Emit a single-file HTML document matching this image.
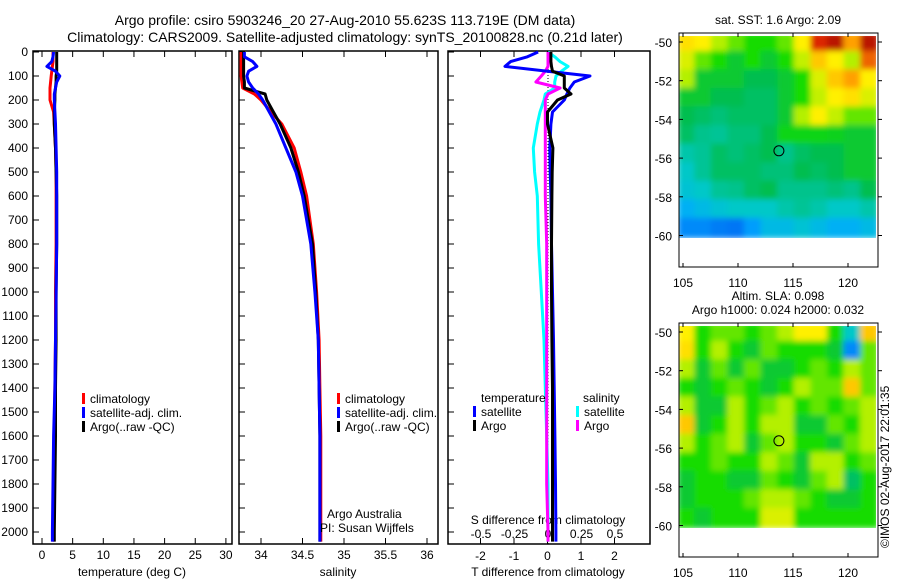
<!DOCTYPE html>
<html><head><meta charset="utf-8"><style>
body{margin:0;background:#fff;}
svg{display:block;font-family:"Liberation Sans",sans-serif;}
text{font-size:12px;fill:#000;}
</style></head><body>
<svg id="s" width="900" height="580" xmlns="http://www.w3.org/2000/svg">
<defs><filter id="bl" x="0" y="0" width="1" height="1"><feGaussianBlur stdDeviation="3"/></filter>
<clipPath id="c1"><rect x="679" y="36" width="197" height="202"/></clipPath>
<clipPath id="c2"><rect x="679" y="326" width="197" height="202"/></clipPath></defs>
<text x="345" y="25" text-anchor="middle" style="font-size:14px">Argo profile: csiro 5903246_20 27-Aug-2010 55.623S 113.719E (DM data)</text>
<text x="345" y="42" text-anchor="middle" style="font-size:14px">Climatology: CARS2009. Satellite-adjusted climatology: synTS_20100828.nc (0.21d later)</text>
</svg>
<script>
const depths=[0,20,40,60,80,100,125,150,175,200,250,300,400,500,600,800,1000,1200,1400,1600,1800,2000,2040];
const tClim=[1.8,1.8,1.8,1.7,1.6,1.5,1.4,1.3,1.3,1.3,1.9,2.0,2.2,2.3,2.3,2.3,2.2,2.2,2.1,2.0,1.9,1.8,1.8];
const tArgo=[2.4,2.4,2.4,2.4,2.4,2.3,2.3,2.2,2.1,2.1,2.0,2.0,2.2,2.3,2.4,2.4,2.3,2.3,2.2,2.2,2.1,2.0,2.0];
const tSat=[1.9,1.8,1.6,0.8,2.2,2.9,2.4,2.2,2.0,2.0,2.1,2.2,2.3,2.4,2.4,2.4,2.3,2.2,2.1,1.9,1.8,1.7,1.7];
const sClim=[33.76,33.76,33.76,33.76,33.76,33.76,33.77,33.78,33.92,34.0,34.12,34.25,34.4,34.48,34.55,34.63,34.67,34.7,34.71,34.72,34.72,34.72,34.72];
const sArgo=[33.79,33.79,33.79,33.79,33.79,33.79,33.8,33.8,34.05,34.07,34.15,34.23,34.36,34.45,34.52,34.62,34.66,34.69,34.7,34.71,34.71,34.71,34.71];
const sSat=[33.8,33.8,33.9,33.95,33.85,33.83,33.85,33.9,33.97,34.02,34.1,34.18,34.3,34.42,34.5,34.6,34.65,34.69,34.7,34.71,34.71,34.71,34.71];
const dTSat=[-0.28,-0.6,-1.1,-1.27,0,1.27,0.8,0.67,0.58,0.5,0.15,0.1,0.07,0.08,0.1,0.12,0.15,0.18,0.2,0.22,0.24,0.25,0.25];
const dTArgo=[0.1,0.1,0.1,0.12,0.15,0.5,0.5,0.5,0.7,0.3,0,0,0.16,0.14,0.13,0.12,0.12,0.13,0.15,0.15,0.15,0.15,0.15];
const dSSat=[0,0.05,0.09,0.15,0.1,0.06,0.05,0.05,-0.02,-0.03,-0.06,-0.08,-0.11,-0.1,-0.08,-0.07,-0.05,-0.03,-0.02,-0.01,0,0,0];
const dSArgo=[0,0,0,0,-0.02,-0.05,-0.09,0.09,0,-0.02,-0.02,-0.02,-0.02,-0.02,-0.02,-0.01,-0.01,-0.01,-0.01,-0.01,-0.01,0,0];
const depthTicks=[0,100,200,300,400,500,600,700,800,900,1000,1100,1200,1300,1400,1500,1600,1700,1800,1900,2000];
const tTicks=[0,5,10,15,20,25,30];
const sTicks=[34,34.5,35,35.5,36];
const dtTicks=[-2,-1,0,1,2];
const dsTicks=[-0.5,-0.25,0,0.25,0.5];
const dsTickLabels=["-0.5","-0.25","0","0.25","0.5"];
const lonTicks=[105,110,115,120];
const latTicks=[-50,-52,-54,-56,-58,-60];
const sst=[
[0.72,0.7,0.6,0.55,0.5,0.5,0.55,0.7,0.9,0.95,0.8,0.95],
[0.65,0.55,0.5,0.45,0.5,0.45,0.5,0.62,0.75,0.7,0.6,0.85],
[0.6,0.45,0.45,0.45,0.42,0.42,0.45,0.5,0.65,0.75,0.8,0.7],
[0.45,0.45,0.42,0.42,0.4,0.4,0.45,0.5,0.62,0.7,0.72,0.65],
[0.42,0.4,0.38,0.4,0.4,0.4,0.45,0.6,0.7,0.62,0.55,0.55],
[0.4,0.36,0.35,0.38,0.38,0.42,0.48,0.48,0.48,0.47,0.45,0.45],
[0.33,0.35,0.4,0.38,0.4,0.42,0.36,0.4,0.42,0.42,0.45,0.45],
[0.3,0.35,0.4,0.4,0.4,0.38,0.38,0.42,0.4,0.42,0.45,0.45],
[0.28,0.3,0.35,0.36,0.4,0.42,0.36,0.36,0.36,0.38,0.36,0.42],
[0.22,0.25,0.28,0.3,0.3,0.3,0.33,0.35,0.33,0.3,0.3,0.33],
[0.15,0.15,0.13,0.12,0.18,0.25,0.25,0.28,0.25,0.22,0.22,0.25]];
const sla=[
[0.7,0.5,0.55,0.55,0.5,0.55,0.6,0.7,0.7,0.5,0.3,0.75],
[0.72,0.5,0.6,0.5,0.45,0.55,0.5,0.5,0.5,0.45,0.15,0.55],
[0.6,0.45,0.55,0.45,0.55,0.45,0.45,0.5,0.55,0.5,0.6,0.55],
[0.5,0.45,0.5,0.55,0.5,0.45,0.5,0.6,0.55,0.55,0.75,0.55],
[0.6,0.45,0.45,0.6,0.5,0.55,0.6,0.5,0.55,0.5,0.55,0.6],
[0.75,0.45,0.5,0.6,0.5,0.6,0.6,0.45,0.45,0.55,0.5,0.6],
[0.6,0.5,0.55,0.6,0.45,0.55,0.6,0.5,0.5,0.45,0.55,0.6],
[0.5,0.5,0.55,0.5,0.5,0.6,0.55,0.45,0.6,0.6,0.5,0.55],
[0.45,0.5,0.5,0.45,0.45,0.55,0.5,0.45,0.55,0.6,0.4,0.5],
[0.45,0.5,0.5,0.5,0.55,0.6,0.6,0.55,0.5,0.45,0.45,0.5],
[0.5,0.45,0.5,0.5,0.5,0.65,0.65,0.5,0.5,0.5,0.5,0.5]];
const argoLon=113.719, argoLat=-55.623;

const S=document.getElementById('s');const NS='http://www.w3.org/2000/svg';
function mk(tag,at,txt){const e=document.createElementNS(NS,tag);for(const k in at)e.setAttribute(k,at[k]);if(txt!==undefined)e.textContent=txt;S.appendChild(e);return e;}
const yD=d=>52+d*0.24;
const xT=v=>42+v*6.13, xS=v=>261+(v-34)*83, xDT=v=>547.5+v*33.5, xDS=v=>548+v*134;
const panels=[[33,232],[239,438],[448,650]];
const TOP=51,BOT=544;
panels.forEach((p,i)=>{
 let r=mk('rect',{x:p[0],y:TOP,width:p[1]-p[0],height:BOT-TOP,fill:'none',stroke:'#000','stroke-width':1.5});
 
 
 depthTicks.forEach(d=>{let t=mk('line',{x1:p[0],x2:p[0]+6,y1:yD(d),y2:yD(d),stroke:'#000'});
  
  });
});
depthTicks.forEach(d=>{let t=mk('text',{x:28,y:yD(d)+4,'text-anchor':'end'},d);
 
 });
function xAxis(ticks,fx,labels,y){ticks.forEach((v,i)=>{const x=fx(v);
 let a=mk('line',{x1:x,x2:x,y1:TOP,y2:TOP+6,stroke:'#000'});
 
 
 let b=mk('line',{x1:x,x2:x,y1:BOT,y2:BOT-6,stroke:'#000'});
 
 
 let t=mk('text',{x:x,y:y,'text-anchor':'middle'},labels?labels[i]:v);
 
 });}
xAxis(tTicks,xT,null,559);
xAxis(sTicks,xS,null,559);
xAxis(dtTicks,xDT,null,560);
dsTicks.forEach((v,i)=>{let t=mk('text',{x:xDS(v),y:538,'text-anchor':'middle'},dsTickLabels[i]);
 
 });
[[132,'temperature (deg C)','temperature-axis-title'],[338,'salinity','salinity-axis-title'],[548,'T difference from climatology','t-diff-axis-title']].forEach(a=>{
 let t=mk('text',{x:a[0],y:576,'text-anchor':'middle'},a[1]);
 
 });
let sdt=mk('text',{x:548,y:524,'text-anchor':'middle'},'S difference from climatology');


let zl=mk('line',{x1:548,x2:548,y1:TOP,y2:BOT,stroke:'#000','stroke-dasharray':'1 2'});


function line(vals,fx,col,name){const d=vals.map((v,i)=>(i?'L':'M')+fx(v).toFixed(1)+','+yD(depths[i]).toFixed(1)).join('');
 let p=mk('path',{d:d,fill:'none',stroke:col,'stroke-width':3,'stroke-linejoin':'round'});
 
 }
line(tClim,xT,'#f00','temp-climatology-line');line(tArgo,xT,'#000','temp-argo-line');line(tSat,xT,'#00f','temp-satellite-line');
line(sClim,xS,'#f00','sal-climatology-line');line(sArgo,xS,'#000','sal-argo-line');line(sSat,xS,'#00f','sal-satellite-line');
line(dSSat,xDS,'#0ff','sdiff-satellite-line');line(dSArgo,xDS,'#f0f','sdiff-argo-line');
line(dTSat,xDT,'#00f','tdiff-satellite-line');line(dTArgo,xDT,'#000','tdiff-argo-line');
function leg(x,y,col,txt){let m=mk('rect',{x:x,y:y-10,width:3,height:11,fill:col});
 
 
 let t=mk('text',{x:x+8,y:y},txt);
 
 }
[[82,'climatology','#f00'],[82,'satellite-adj. clim.','#00f'],[82,'Argo(..raw -QC)','#000']].forEach((a,i)=>leg(a[0],403+i*14,a[2],a[1]));
[[337,'climatology','#f00'],[337,'satellite-adj. clim.','#00f'],[337,'Argo(..raw -QC)','#000']].forEach((a,i)=>leg(a[0],403+i*14,a[2],a[1]));
let lt=mk('text',{x:481,y:402},'temperature');
let ls=mk('text',{x:583,y:402},'salinity');
leg(473,416,'#00f','satellite');leg(473,430,'#000','Argo');leg(576,416,'#0ff','satellite');leg(576,430,'#f0f','Argo');
let aa=mk('text',{x:327,y:518},'Argo Australia');
let pi=mk('text',{x:320,y:532},'PI: Susan Wijffels');
// maps
function cmap(v){const st=[[0,[0,40,230]],[0.2,[0,170,255]],[0.3,[0,200,200]],[0.42,[0,190,80]],[0.5,[20,220,0]],[0.6,[180,240,0]],[0.7,[255,240,0]],[0.8,[255,160,0]],[0.9,[220,40,0]],[1,[150,0,0]]];
 for(let i=1;i<st.length;i++)if(v<=st[i][0]){const a=st[i-1],b=st[i],f=(v-a[0])/(b[0]-a[0]);return 'rgb('+a[1].map((c,j)=>Math.round(c+(b[1][j]-c)*f)).join(',')+')';}
 return 'rgb(150,0,0)';}
function map(grid,oy,clip,name,title){
 const lon0=104.6,lon1=122.7,latT=-49.55;
 const xL=v=>683+(v-105)*11, yL=v=>oy+42+(-50-v)*19.35;
 const g=mk('g',{'clip-path':'url(#'+clip+')'});
 const inner=document.createElementNS(NS,'g');inner.setAttribute('filter','url(#bl)');g.appendChild(inner);
 const nr=grid.length,nc=grid[0].length,dlon=(lon1-lon0)/nc,dlat=(60.1-49.55)/nr;
 grid.forEach((row,r)=>row.forEach((v,c)=>{const x0=xL(lon0+c*dlon),x1=xL(lon0+(c+1)*dlon),y0=yL(latT-r*dlat),y1=yL(latT-(r+1)*dlat);
  const e=document.createElementNS(NS,'rect');e.setAttribute('x',x0-1);e.setAttribute('y',y0-1);e.setAttribute('width',x1-x0+2);e.setAttribute('height',y1-y0+2);e.setAttribute('fill',cmap(v));
  
  
  inner.appendChild(e);}));
 let bx=mk('rect',{x:679,y:oy+33,width:199,height:234,fill:'none',stroke:'#000'});
 lonTicks.forEach(v=>{let t=mk('text',{x:xL(v),y:oy+287,'text-anchor':'middle'},v);
  let a=mk('line',{x1:xL(v),x2:xL(v),y1:oy+33,y2:oy+37,stroke:'#000'});
  let b=mk('line',{x1:xL(v),x2:xL(v),y1:oy+267,y2:oy+263,stroke:'#000'});});
 latTicks.forEach(v=>{let t=mk('text',{x:672,y:yL(v)+5,'text-anchor':'end'},v);
  let a=mk('line',{x1:679,x2:683,y1:yL(v),y2:yL(v),stroke:'#000'});
  let b=mk('line',{x1:878,x2:882,y1:yL(v),y2:yL(v),stroke:'#000'});});
 let c=mk('circle',{cx:xL(argoLon),cy:yL(argoLat),r:5,fill:'none',stroke:'#000'});
 title.forEach((t,i)=>{let e=mk('text',{x:778,y:oy+24-(title.length-1-i)*14,'text-anchor':'middle'},t);});
}
map(sst,0,'c1','sst-map',['sat. SST: 1.6 Argo: 2.09']);
map(sla,290,'c2','sla-map',['Altim. SLA: 0.098','Argo h1000: 0.024 h2000: 0.032']);
let cp=mk('text',{x:0,y:0,transform:'translate(889,548) rotate(-90)'},'©IMOS 02-Aug-2017 22:01:35');

</script>
</body></html>
